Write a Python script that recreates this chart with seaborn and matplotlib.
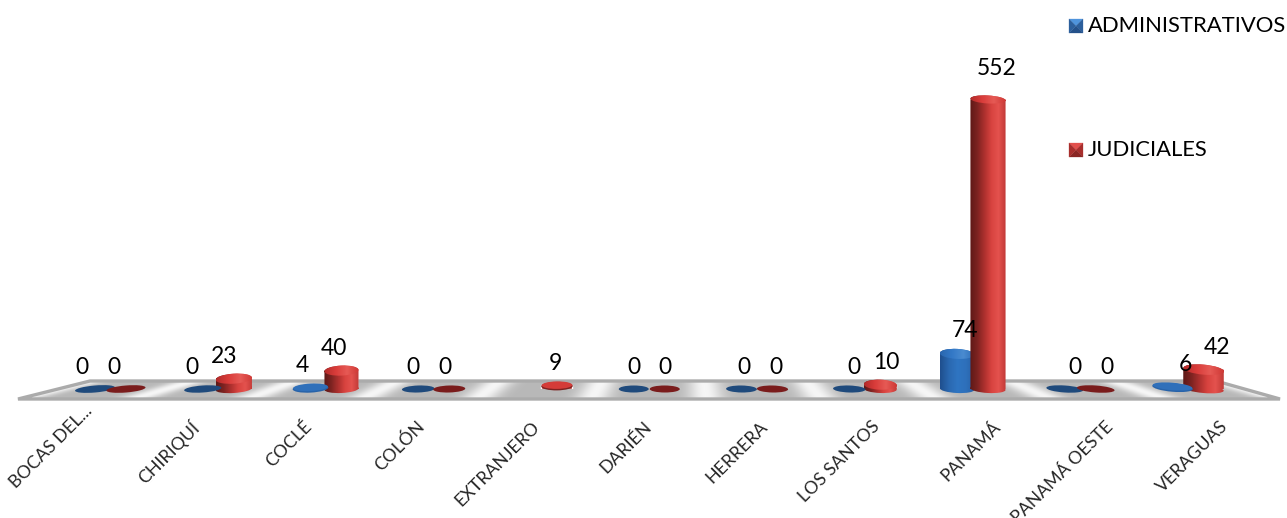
import numpy as np
import pandas as pd
import matplotlib
matplotlib.use("Agg")
import matplotlib.pyplot as plt
import seaborn as sns
from matplotlib.colors import LinearSegmentedColormap
from matplotlib.patches import Ellipse, Polygon
from matplotlib.path import Path
from matplotlib.transforms import Affine2D, ScaledTranslation

# ── Data ───────────────────────────────────────────────────────────────────────
provincias = ["BOCAS DEL...", "CHIRIQUÍ", "COCLÉ", "COLÓN", "EXTRANJERO", "DARIÉN",
              "HERRERA", "LOS SANTOS", "PANAMÁ", "PANAMÁ OESTE", "VERAGUAS"]
administrativos = [0, 0, 4, 0, np.nan, 0, 0, 0, 74, 0, 6]
judiciales = [0, 23, 40, 0, 9, 0, 0, 10, 552, 0, 42]

# ── Style ──────────────────────────────────────────────────────────────────────
W, H = 1287, 518
BASE_Y = 389      # floor line under the cylinders, px
LEFT, RIGHT = 56.6, 1241.9
FONT = "Lato"
# offset of each rotated label from its category, points (3D chart perspective)
label_shift = [-19, -21, -16, -13, -7, -4, 2, 4.5, 14, 17.5, 23]
label_lift = [11, 0, 0, 0, 0, 0, 0, 0, 0, 0, 0]

sns.set_theme(style="white")
plt.rcParams["font.family"] = [FONT, "DejaVu Sans"]

df = pd.DataFrame({"provincia": provincias,
                   "ADMINISTRATIVOS": administrativos,
                   "JUDICIALES": judiciales})
long_df = df.melt(id_vars="provincia", var_name="tipo", value_name="n")

fig = plt.figure(figsize=(W / 100, H / 100), dpi=100, facecolor="white")

# pixel-space layers: floor below the bars, 3D shading above them
ax_floor = fig.add_axes([0, 0, 1, 1], zorder=0)
ax_floor.set_axis_off()
px_h = 316
ax = fig.add_axes([LEFT / W, (H - BASE_Y) / H, (RIGHT - LEFT) / W, px_h / H], zorder=1)
ax_px = fig.add_axes([0, 0, 1, 1], zorder=2)
ax_px.set_axis_off()
ax_px.patch.set_alpha(0)

# ── Bars ───────────────────────────────────────────────────────────────────────
sns.barplot(data=long_df, x="provincia", y="n", hue="tipo", order=provincias,
            hue_order=["ADMINISTRATIVOS", "JUDICIALES"],
            palette={"ADMINISTRATIVOS": "#2e6fb8", "JUDICIALES": "#b83230"},
            width=0.575, gap=0, saturation=1, legend=False, ax=ax)
# the picture's depth makes the value axis slightly non linear
ax.set_yscale("function", functions=(lambda v: np.power(np.maximum(v, 0), 1.05),
                                     lambda v: np.power(np.maximum(v, 0), 1 / 1.05)))
ax.set_ylim(0, 600)
ax.set_xlim(-0.5, 10.5)
ax.patch.set_alpha(0)
sns.despine(ax=ax, left=True, bottom=True)
ax.set_xlabel("")
ax.set_ylabel("")
ax.set_yticks([])
ax.minorticks_off()
ax.set_xticks(range(len(provincias)))
ax.set_xticklabels(provincias, rotation=45, ha="right", rotation_mode="anchor", fontsize=12.8)
ax.tick_params(axis="x", length=0, pad=21)
for lab, dx, dy in zip(ax.get_xticklabels(), label_shift, label_lift):
    lab.set_transform(lab.get_transform() + ScaledTranslation(dx / 72, dy / 72, fig.dpi_scale_trans))

# ── Floor ──────────────────────────────────────────────────────────────────────
yy, xx = np.mgrid[378:403:100j, 0:W:1287j]
t = (yy - 381) / 18
fl = 90 - 72 * t
fr = 1216 + 64 * t
u = (xx - fl) / (fr - fl)
streak = ((1 + np.cos(2 * np.pi * 11 * u)) / 2) ** 4
floor_cmap = LinearSegmentedColormap.from_list("floor", ["#b8b8b8", "#f6f6f6"])
im = ax_floor.imshow(streak, extent=(0, W, 403, 378), cmap=floor_cmap, aspect="auto",
                     interpolation="bilinear")
outline = Polygon([(18, 399), (90, 381), (1216, 381), (1280, 399)], closed=True,
                  facecolor="none", edgecolor="#ababab", linewidth=2.4, joinstyle="miter")
ax_floor.add_patch(outline)
im.set_clip_path(outline)
ax_floor.set_xlim(0, W)
ax_floor.set_ylim(H, 0)

# ── Cylinders ──────────────────────────────────────────────────────────────────
red_side = LinearSegmentedColormap.from_list(
    "rs", ["#5e1917", "#7d2321", "#ad302e", "#d8433f", "#e4524e", "#c23a37"])
blue_side = LinearSegmentedColormap.from_list(
    "bs", ["#1f4f8e", "#2a68b0", "#2f75c2", "#2e70bb", "#285fa6"])
red_top = LinearSegmentedColormap.from_list("rt", ["#b32b2a", "#d93c3a", "#e65a55", "#cf3835"])
blue_top = LinearSegmentedColormap.from_list("bt", ["#2a66ae", "#3378c6", "#4a8bd0", "#2e6fb8"])
ramp = np.linspace(0, 1, 64).reshape(1, -1)


def ellipse_path(cx, cy, rx, ry, angle):
    tr = Affine2D().scale(rx, ry).rotate_deg(angle).translate(cx, cy)
    return Path.unit_circle().transformed(tr)


def shaded(path, cmap, extent):
    img = ax_px.imshow(ramp, extent=extent, cmap=cmap, aspect="auto", interpolation="bilinear")
    img.set_clip_path(path, transform=ax_px.transData)


fig.canvas.draw()
marks = []
for container, color in zip(ax.containers, ["blue", "red"]):
    for bar in container:
        if np.isfinite(bar.get_height()):
            marks.append((bar.get_x() + bar.get_width() / 2, bar.get_height(), color))
marks.sort(key=lambda m: m[0])


def to_px(x, y):
    dx, dy = ax.transData.transform((x, y))
    return dx, H - dy


labels_px = []
for x, val, color in marks:
    cx, top = to_px(x, val)
    _, base = to_px(x, 0)
    off = abs(cx - 640)
    angle = (cx - 640) * 0.009
    width = 30 + 10 * (off / 545) ** 1.5   # cylinders get wider towards the sides
    rx = width / 2
    side = red_side if color == "red" else blue_side
    cap = red_top if color == "red" else blue_top
    if val == 0:
        flat = "#7a1c1c" if color == "red" else "#1f4a7c"
        ax_px.add_patch(Ellipse((cx, base), width, 7, angle=angle, facecolor=flat, edgecolor="none"))
    elif val < 10:
        ax_px.add_patch(Ellipse((cx, top + 1), width + 1, 8.5, angle=angle, facecolor=side(0.2), edgecolor="none"))
        ax_px.add_patch(Ellipse((cx, top), width, 7.5, angle=angle,
                                facecolor="#d43c38" if color == "red" else "#3070ba", edgecolor="none"))
    else:
        ry = 5 if val < 100 else 4
        body = Path.make_compound_path(
            Path([(cx - rx, top), (cx + rx, top), (cx + rx, base), (cx - rx, base), (cx - rx, top)], closed=True),
            ellipse_path(cx, base, rx, 4, angle),
            ellipse_path(cx, top, rx, ry, angle))
        shaded(body, side, (cx - rx, cx + rx, base + 6, top - 6))
        shaded(ellipse_path(cx, top, rx, ry, angle), cap, (cx - rx, cx + rx, top + 6, top - 6))
    # data labels drift outwards with the perspective
    labels_px.append((cx + (cx - 640) * 0.024, 367 + (top - base) * 1.03, int(val)))

for lx, ly, val in labels_px:
    ax_px.text(lx, ly, str(val), ha="center", va="center", fontsize=16.5, color="black")

# ── Legend ─────────────────────────────────────────────────────────────────────
def bevel_square(x0, y0, s, light, mid, bottom):
    c = (x0 + s / 2, y0 + s / 2)
    a, b, d, e = (x0, y0), (x0 + s, y0), (x0 + s, y0 + s), (x0, y0 + s)
    for pts, col in [([a, b, c], light), ([b, d, c], mid), ([d, e, c], bottom), ([e, a, c], mid)]:
        ax_px.add_patch(Polygon(pts, closed=True, facecolor=col, edgecolor=col, linewidth=0.2))


bevel_square(1069, 19, 14, "#4f94dc", "#2c5f9c", "#24518a")
bevel_square(1069, 143, 14, "#e2504c", "#a82e2c", "#8a2624")
ax_px.text(1088, 26, "ADMINISTRATIVOS", ha="left", va="center", fontsize=15.8, color="black")
ax_px.text(1088, 150, "JUDICIALES", ha="left", va="center", fontsize=15.8, color="black")

ax_px.set_xlim(0, W)
ax_px.set_ylim(H, 0)

fig.savefig("out.png", dpi=100, facecolor="white")
plt.close(fig)
